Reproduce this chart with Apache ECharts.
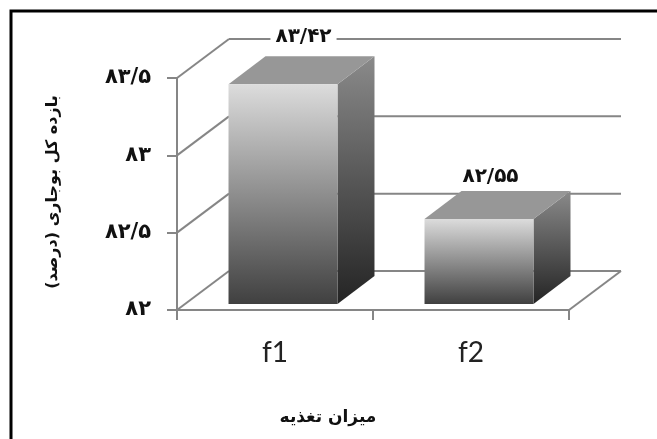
<!DOCTYPE html>
<html><head><meta charset="utf-8">
<style>html,body{margin:0;padding:0;background:#fff}#c{width:657px;height:439px}</style>
<script src="https://cdn.jsdelivr.net/npm/echarts@6/dist/echarts.min.js"></script>
</head><body><div id="c"></div>
<script>
const categories = ['f1', 'f2'];
const values = [83.42, 82.55];
const valueLabels = ['۸۳/۴۲', '۸۲/۵۵'];
const tickValues = [82, 82.5, 83, 83.5];
const tickLabels = {82: '۸۲', 82.5: '۸۲/۵', 83: '۸۳', 83.5: '۸۳/۵'};
const yTitle = 'بازده کل بوجاری (درصد)';
const xTitle = 'میزان تغذیه';

const FA = '"DejaVu Sans", "Noto Sans", sans-serif';
const WALL_DX = 52, WALL_DY = -39;     // oblique projection of the chart's depth
const BAR_OFF_X = 8, BAR_OFF_Y = -6;   // bar's gap from the front of the floor
const BAR_DX = 37, BAR_DY = -28;       // bar's own depth
const BAR_RATIO = 0.556;
const GRID = '#868686';
const LABEL_NUDGE = [[4, -3], [-5, 3]];

function vgrad(a, b) {
  return new echarts.graphic.LinearGradient(0, 0, 0, 1, [{offset: 0, color: a}, {offset: 1, color: b}]);
}

function renderWall(params, api) {
  const p = api.coord([0, api.value(0)]);
  const cs = params.coordSys;
  const x0 = cs.x, x1 = cs.x + cs.width, y = p[1];
  const line = (a, b, c, d) => ({type: 'line', shape: {x1: a, y1: b, x2: c, y2: d},
    style: {stroke: GRID, lineWidth: 2}});
  const kids = [
    line(x0, y, x0 + WALL_DX, y + WALL_DY),
    line(x0 + WALL_DX, y + WALL_DY, x1 + WALL_DX, y + WALL_DY)
  ];
  if (params.dataIndex === 0) kids.push(line(x1, y, x1 + WALL_DX, y + WALL_DY));
  return {type: 'group', children: kids};
}

function renderBar(params, api) {
  const cat = api.value(0), val = api.value(1);
  const top = api.coord([cat, val]), base = api.coord([cat, 82]);
  const w = api.size([1, 0])[0] * BAR_RATIO;
  const l = top[0] - w / 2 + BAR_OFF_X, r = l + w;
  const t = top[1] + BAR_OFF_Y, b = base[1] + BAR_OFF_Y;
  const dx = BAR_DX, dy = BAR_DY;
  const nudge = LABEL_NUDGE[params.dataIndex];
  return {type: 'group', children: [
    {type: 'polygon', shape: {points: [[r, t], [r + dx, t + dy], [r + dx, b + dy], [r, b]]},
      style: {fill: vgrad('#8a8a8a', '#242424')}},
    {type: 'polygon', shape: {points: [[l, t], [l + dx, t + dy], [r + dx, t + dy], [r, t]]},
      style: {fill: '#979797'}},
    {type: 'rect', shape: {x: l, y: t, width: w, height: b - t},
      style: {fill: vgrad('#dcdcdc', '#404040')}},
    {type: 'text', x: l + w / 2 + dx / 2 - 2 + nudge[0], y: t + dy - 17 + nudge[1],
      style: {text: valueLabels[params.dataIndex], fill: '#111', align: 'center', verticalAlign: 'middle',
        font: 'bold 20px ' + FA, backgroundColor: '#fff', padding: [0, 5]}}
  ]};
}

const chart = echarts.init(document.getElementById('c'), null, {renderer: 'canvas'});
chart.setOption({
  animation: false,
  backgroundColor: '#fff',
  grid: {left: 177, right: 88, top: 78, bottom: 129},
  xAxis: {
    type: 'category', data: categories,
    name: xTitle, nameLocation: 'middle', nameGap: 99,
    nameTextStyle: {fontFamily: FA, fontWeight: 'bold', fontSize: 17, color: '#111', padding: [0, 90, 0, 0]},
    axisLine: {lineStyle: {color: GRID, width: 2}},
    axisTick: {show: true, alignWithLabel: false, length: 10, lineStyle: {color: GRID, width: 2}},
    axisLabel: {fontFamily: 'Lato, "Open Sans", sans-serif', fontSize: 28, color: '#222', margin: 29}
  },
  yAxis: {
    type: 'value', min: 82, max: 83.5, interval: 0.5,
    name: yTitle, nameLocation: 'middle', nameGap: 116,
    nameTextStyle: {fontFamily: FA, fontWeight: 'bold', fontSize: 16, color: '#111', padding: [0, 0, 0, 4]},
    axisLine: {show: true, lineStyle: {color: GRID, width: 2}},
    axisTick: {show: true, length: 10, lineStyle: {color: GRID, width: 2}},
    axisLabel: {fontFamily: FA, fontWeight: 'bold', fontSize: 21, color: '#111', margin: 26,
      formatter: v => tickLabels[v]},
    splitLine: {show: false}
  },
  series: [
    {type: 'custom', data: tickValues.map(v => [v]), encode: {y: 0}, renderItem: renderWall, silent: true, z: 1, clip: false},
    {type: 'custom', data: values.map((v, i) => [i, v]), encode: {x: 0, y: 1}, renderItem: renderBar, z: 2, clip: false}
  ],
  graphic: [{
    type: 'polyline', z: 10, silent: true,
    shape: {points: [[11, 439], [11, 11], [657, 11]]},
    style: {stroke: '#000', lineWidth: 3, fill: null}
  }]
});
</script></body></html>
